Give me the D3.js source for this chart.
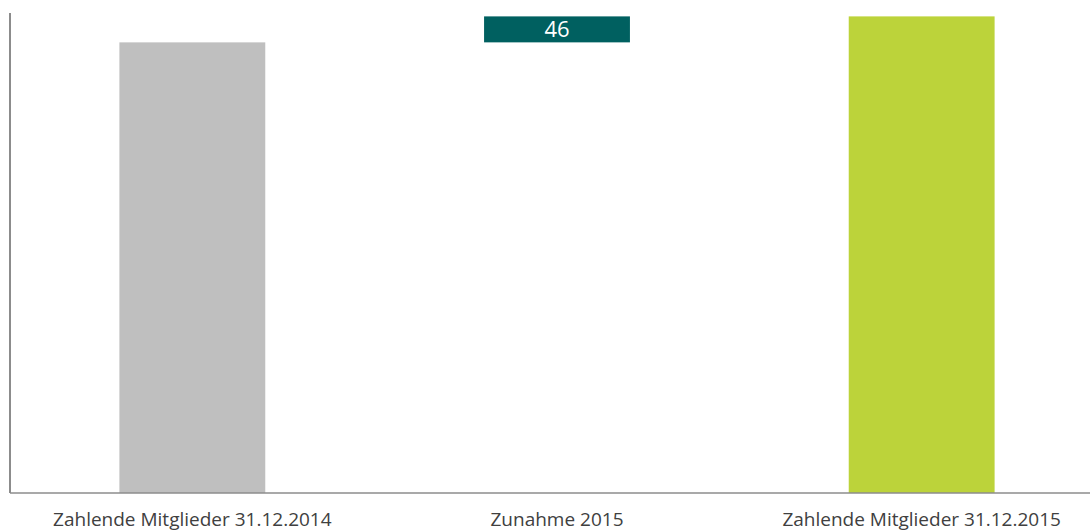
<!DOCTYPE html>
<meta charset="utf-8">
<script src="https://d3js.org/d3.v7.min.js"></script>
<style>
  body { margin: 0; background: #fff; }
  text { font-family: "Open Sans", sans-serif; }
</style>
<div id="chart"></div>
<script>
// Waterfall: members at end of 2014, increase in 2015, members at end of 2015
var categories = ["Zahlende Mitglieder 31.12.2014", "Zahlende Mitglieder 31.12.2015"];
var increaseLabel = "Zunahme 2015";
var startValue = 798;
var increase = 46;
var endValue = startValue + increase;

var width = 1090, height = 531;

var steps = [
    { name: categories[0], base: 0, top: startValue, color: "#bfbfbf" },
    { name: increaseLabel, base: startValue, top: endValue, color: "#006060", label: increase },
    { name: categories[1], base: 0, top: endValue, color: "#bcd33a" }
];

var svg = d3.select("#chart").append("svg")
    .attr("width", width)
    .attr("height", height);

var x = d3.scaleBand()
    .domain(steps.map(function(d) { return d.name; }))
    .range([10, 1104])
    .paddingInner(0.6)
    .paddingOuter(0.3);

var y = d3.scaleLinear().domain([0, 850]).range([493, 13]);

// bars
svg.append("g").selectAll("rect")
    .data(steps)
    .join("rect")
    .attr("x", function(d) { return x(d.name); })
    .attr("width", x.bandwidth())
    .attr("y", function(d) { return y(d.top); })
    .attr("height", function(d) { return y(d.base) - y(d.top); })
    .attr("fill", function(d) { return d.color; });

// value label inside the increase bar
svg.append("g").selectAll("text")
    .data(steps.filter(function(d) { return d.label != null; }))
    .join("text")
    .attr("x", function(d) { return x(d.name) + x.bandwidth() / 2; })
    .attr("y", function(d) { return (y(d.top) + y(d.base)) / 2; })
    .attr("dy", "0.36em")
    .attr("text-anchor", "middle")
    .attr("fill", "#fff")
    .style("font-size", "22px")
    .text(function(d) { return d.label; });

// axes: plain lines, no ticks
svg.append("line")
    .attr("x1", 10).attr("x2", width)
    .attr("y1", y(0)).attr("y2", y(0))
    .attr("stroke", "#8c8c8c").attr("stroke-width", 1.5);

svg.append("line")
    .attr("x1", 10).attr("x2", 10)
    .attr("y1", y(850)).attr("y2", y(0))
    .attr("stroke", "#8c8c8c").attr("stroke-width", 2);

// category labels
svg.append("g").selectAll("text")
    .data(steps)
    .join("text")
    .attr("x", function(d) { return x(d.name) + x.bandwidth() / 2; })
    .attr("y", 526)
    .attr("text-anchor", "middle")
    .attr("fill", "#404040")
    .style("font-size", "19px")
    .text(function(d) { return d.name; });
</script>
